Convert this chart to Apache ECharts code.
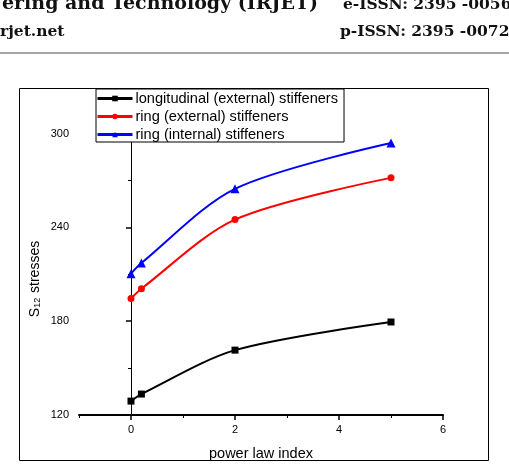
<!DOCTYPE html>
<html>
<head>
<meta charset="utf-8">
<title>S12 stresses vs power law index</title>
<script src="https://cdn.jsdelivr.net/npm/echarts@6.0.0/dist/echarts.min.js"></script>
<style>
html, body { margin: 0; padding: 0; background: #fff; }
#container { width: 509px; height: 466px; }
</style>
</head>
<body>
<div id="container"></div>
<script type="text/javascript">
// data
var powerIndex = [0, 0.2, 2, 5];
var longExternal = [128.9, 133.4, 161.5, 179.5];
var ringExternal = [194.5, 200.8, 245.0, 271.7];
var ringInternal = [210.4, 217.2, 264.7, 294.0];

var seriesNames = ['longitudinal (external) stiffeners', 'ring (external) stiffeners', 'ring (internal) stiffeners'];
var xMajor = [0, 2, 4, 6];
var xMinor = [-1, 1, 3, 5];
var yMajor = [120, 180, 240, 300];
var yMinor = [150, 210, 270];

function pairs(xs, ys) {
	return xs.map(function (x, i) { return [x, ys[i]]; });
}

var myChart = echarts.init(document.getElementById('container'));

var tickFont = { fontFamily: 'Liberation Sans', fontSize: 11, color: '#000' };

option = {
	animation: false,
	grid: { left: 79, right: 66, top: 118, bottom: 51 },
	legend: {
		orient: 'vertical',
		left: 96,
		top: 89,
		padding: [2, 6, 0, 0],
		itemGap: 3,
		itemWidth: 35,
		itemHeight: 7,
		backgroundColor: '#fff',
		borderColor: '#000',
		borderWidth: 1,
		lineStyle: { width: 3 },
		textStyle: { fontFamily: 'Liberation Sans', fontSize: 14.6, color: '#000', lineHeight: 14, padding: [0, 0, 0, -2] },
		data: seriesNames
	},
	xAxis: [{
		type: 'value',
		min: -1,
		max: 6,
		name: 'power law index',
		nameLocation: 'middle',
		nameGap: 31,
		nameTextStyle: { fontFamily: 'Liberation Sans', fontSize: 14.5, color: '#000' },
		axisLine: { show: true, lineStyle: { color: '#000', width: 2 } },
		axisTick: { show: true, length: 5, customValues: xMajor, lineStyle: { color: '#000', width: 1.5 } },
		axisLabel: Object.assign({ margin: 9, customValues: xMajor }, tickFont),
		splitLine: { show: false }
	}, {
		type: 'value',
		min: -1,
		max: 6,
		position: 'bottom',
		axisLine: { show: false },
		axisTick: { show: true, length: 3, customValues: xMinor, lineStyle: { color: '#000', width: 1 } },
		axisLabel: { show: false },
		splitLine: { show: false }
	}],
	yAxis: [{
		type: 'value',
		min: 120,
		max: 310,
		axisLine: { show: true, lineStyle: { color: '#000', width: 1 } },
		axisTick: { show: true, length: 5, customValues: yMajor, lineStyle: { color: '#000', width: 1.5 } },
		axisLabel: Object.assign({ margin: 10, customValues: yMajor }, tickFont),
		splitLine: { show: false }
	}, {
		type: 'value',
		min: 120,
		max: 310,
		position: 'left',
		axisLine: { show: false },
		axisTick: { show: true, length: 3, customValues: yMinor, lineStyle: { color: '#000', width: 1 } },
		axisLabel: { show: false },
		splitLine: { show: false }
	}],
	series: [{
		name: seriesNames[0],
		type: 'line',
		smooth: 0.3,
		data: pairs(powerIndex, longExternal),
		symbol: 'rect',
		symbolSize: 7,
		itemStyle: { color: '#000' },
		lineStyle: { color: '#000', width: 2 }
	}, {
		name: seriesNames[1],
		type: 'line',
		smooth: 0.3,
		data: pairs(powerIndex, ringExternal),
		symbol: 'circle',
		symbolSize: 7,
		itemStyle: { color: '#ff0000' },
		lineStyle: { color: '#ff0000', width: 2 }
	}, {
		name: seriesNames[2],
		type: 'line',
		smooth: 0.3,
		data: pairs(powerIndex, ringInternal),
		symbol: 'triangle',
		symbolSize: 9,
		itemStyle: { color: '#0000ff' },
		lineStyle: { color: '#0000ff', width: 2 }
	}],
	graphic: [
		// page header (journal running head)
		{ type: 'text', left: 2, top: -5, z: 10, style: { text: 'ering and Technology (IRJET)', font: 'bold 19px "DejaVu Serif"', fill: '#111' } },
		{ type: 'text', left: 343, top: -3, z: 10, style: { text: 'e-ISSN: 2395 -0056', font: 'bold 15.5px "DejaVu Serif"', fill: '#111' } },
		{ type: 'text', left: 0, top: 24, z: 10, style: { text: 'rjet.net', font: 'bold 15.5px "DejaVu Serif"', fill: '#111' } },
		{ type: 'text', left: 340, top: 24, z: 10, style: { text: 'p-ISSN: 2395 -0072', font: 'bold 15.5px "DejaVu Serif"', fill: '#111' } },
		{ type: 'line', z: 10, shape: { x1: 0, y1: 53, x2: 509, y2: 53 }, style: { stroke: '#888', lineWidth: 1.5 } },
		// figure frame
		{ type: 'rect', z: -1, shape: { x: 19.5, y: 88.5, width: 469, height: 372 }, style: { fill: 'none', stroke: '#000', lineWidth: 1 } },
		// y axis title with subscript
		{
			type: 'text', x: 35, y: 279, rotation: Math.PI / 2, z: 10,
			style: {
				text: '{s|S}{sub|12}{s| stresses}',
				align: 'center', verticalAlign: 'middle',
				rich: {
					s: { fontFamily: 'Liberation Sans', fontSize: 14, fill: '#000' },
					sub: { fontFamily: 'Liberation Sans', fontSize: 9, fill: '#000', padding: [6, 1, 0, 0] }
				}
			}
		}
	]
};
myChart.setOption(option);
</script>
</body>
</html>
